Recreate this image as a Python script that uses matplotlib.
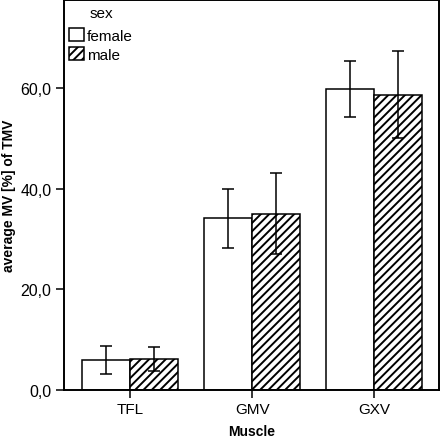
import matplotlib
matplotlib.use("Agg")
import matplotlib.pyplot as plt
import numpy as np
from matplotlib.patches import Patch

plt.rcParams['font.family'] = ['Liberation Sans', 'DejaVu Sans']
plt.rcParams['hatch.linewidth'] = 1.4

categories = ["TFL", "GMV", "GXV"]
groups = ["female", "male"]
female_mean = [6.0, 34.2, 59.9]
female_low = [3.2, 28.2, 54.3]
female_high = [8.8, 40.0, 65.5]
male_mean = [6.2, 35.1, 58.7]
male_low = [3.7, 27.1, 50.2]
male_high = [8.6, 43.2, 67.5]
yticks = [0, 20, 40, 60]
ytick_labels = ["0,0", "20,0", "40,0", "60,0"]

W, H = 441, 439
fig = plt.figure(figsize=(W/100, H/100), dpi=100)
ax = fig.add_axes([64/W, 1 - 391/H, (439-64)/W, (391-1)/H])

x = np.arange(len(categories))
w = 0.393
fm = np.array(female_mean); mm = np.array(male_mean)
ax.bar(x - w/2, fm, w, color='white', edgecolor='black', linewidth=1.1, zorder=2)
ax.bar(x + w/2, mm, w, color='white', edgecolor='black', linewidth=1.1, hatch='////', zorder=2)
ax.errorbar(x - w/2, fm, yerr=[fm - np.array(female_low), np.array(female_high) - fm],
            fmt='none', ecolor='black', elinewidth=1.1, capsize=4, capthick=1.1, zorder=3)
ax.errorbar(x + w/2, mm, yerr=[mm - np.array(male_low), np.array(male_high) - mm],
            fmt='none', ecolor='black', elinewidth=1.1, capsize=4, capthick=1.1, zorder=3)

ax.set_xlim(-0.54, 2.53)
ax.set_ylim(0, 77.6)
ax.set_xticks(x)
ax.set_xticklabels(categories, fontsize=11)
ax.set_yticks(yticks)
ax.set_yticklabels(ytick_labels, fontsize=11.5)
ax.tick_params(axis='both', direction='out', length=6, width=1.1, color='black', pad=3)
for s in ax.spines.values():
    s.set_linewidth(1.4)
ax.set_xlabel("Muscle", fontsize=10, fontweight='bold')
ax.xaxis.set_label_coords(0.5, -0.088)
ax.set_ylabel("average MV [%] of TMV", fontsize=10, fontweight='bold', labelpad=3)

handles = [Patch(facecolor='white', edgecolor='black', linewidth=1.1, label=groups[0]),
           Patch(facecolor='white', edgecolor='black', linewidth=1.1, hatch='////', label=groups[1])]
leg = ax.legend(handles=handles, loc='upper left', frameon=False,
                fontsize=11, handlelength=0.95, handleheight=0.95,
                handletextpad=0.2, borderaxespad=0.0, borderpad=0.0, labelspacing=0.25,
                bbox_to_anchor=(69/W, 1 - 29/H), bbox_transform=fig.transFigure)
fig.text(101.5/W, 1 - 14/H, "sex", fontsize=11, ha='center', va='center')
fig.savefig("out.png", dpi=100)
